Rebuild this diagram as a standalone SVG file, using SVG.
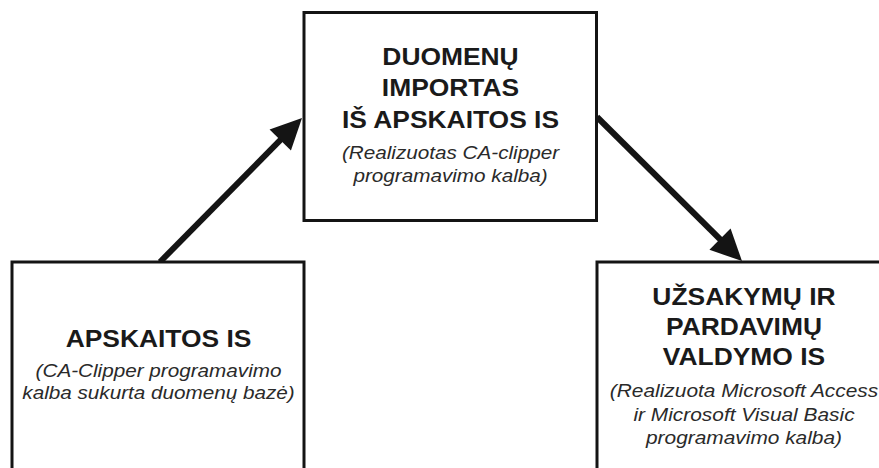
<svg xmlns="http://www.w3.org/2000/svg" width="879" height="468" viewBox="0 0 879 468">
  <style>
    .box { fill: #ffffff; stroke: #141414; stroke-width: 3; }
    .b { font-family: "Liberation Sans", Arial, Helvetica, sans-serif; font-weight: 700; font-size: 24px; fill: #1a1a1a; text-anchor: middle; }
    .i { font-family: "Liberation Sans", Arial, Helvetica, sans-serif; font-style: italic; font-size: 18px; fill: #2a2a2a; text-anchor: middle; }
    .conn { fill: none; stroke: #141414; stroke-width: 6; }
  </style>
  <defs>
    <marker id="head" markerUnits="userSpaceOnUse" viewBox="-22 -16 34 32" markerWidth="34" markerHeight="32" refX="0" refY="0" orient="auto">
      <path d="M-21,-15 L10,0 L-21,15 z" fill="#141414"/>
    </marker>
  </defs>
  <rect x="0" y="0" width="879" height="468" fill="#ffffff"/>

  <g id="connectors">
    <path class="conn" d="M160,262 L295,125.1" marker-end="url(#head)"/>
    <path class="conn" d="M597,117 L734.9,254" marker-end="url(#head)"/>
  </g>

  <g id="node-import">
    <rect class="box" x="304" y="12.5" width="292.5" height="208"/>
    <text class="b" transform="matrix(1.1 0 0 1 450.5 0)" x="0" y="65">DUOMENŲ</text>
    <text class="b" transform="matrix(1.1 0 0 1 450.5 0)" x="0" y="96.5">IMPORTAS</text>
    <text class="b" transform="matrix(1.1 0 0 1 450.5 0)" x="0" y="128">IŠ APSKAITOS IS</text>
    <text class="i" transform="matrix(1.15 0 0 1 450.5 0)" x="0" y="159">(Realizuotas CA-clipper</text>
    <text class="i" transform="matrix(1.15 0 0 1 450.5 0)" x="0" y="182">programavimo kalba)</text>
  </g>

  <g id="node-apskaitos">
    <rect class="box" x="12" y="262" width="292" height="230"/>
    <text class="b" transform="matrix(1.1 0 0 1 158.5 0)" x="0" y="347">APSKAITOS IS</text>
    <text class="i" transform="matrix(1.15 0 0 1 158.5 0)" x="0" y="377">(CA-Clipper programavimo</text>
    <text class="i" transform="matrix(1.15 0 0 1 158.5 0)" x="0" y="399">kalba sukurta duomenų bazė)</text>
  </g>

  <g id="node-uzsakymu">
    <rect class="box" x="597" y="262" width="320" height="230"/>
    <text class="b" transform="matrix(1.1 0 0 1 744 0)" x="0" y="305">UŽSAKYMŲ IR</text>
    <text class="b" transform="matrix(1.1 0 0 1 744 0)" x="0" y="335">PARDAVIMŲ</text>
    <text class="b" transform="matrix(1.1 0 0 1 744 0)" x="0" y="365">VALDYMO IS</text>
    <text class="i" transform="matrix(1.16 0 0 1 744 0)" x="0" y="397">(Realizuota Microsoft Access</text>
    <text class="i" transform="matrix(1.16 0 0 1 744 0)" x="0" y="421">ir Microsoft Visual Basic</text>
    <text class="i" transform="matrix(1.16 0 0 1 744 0)" x="0" y="444">programavimo kalba)</text>
  </g>
</svg>
